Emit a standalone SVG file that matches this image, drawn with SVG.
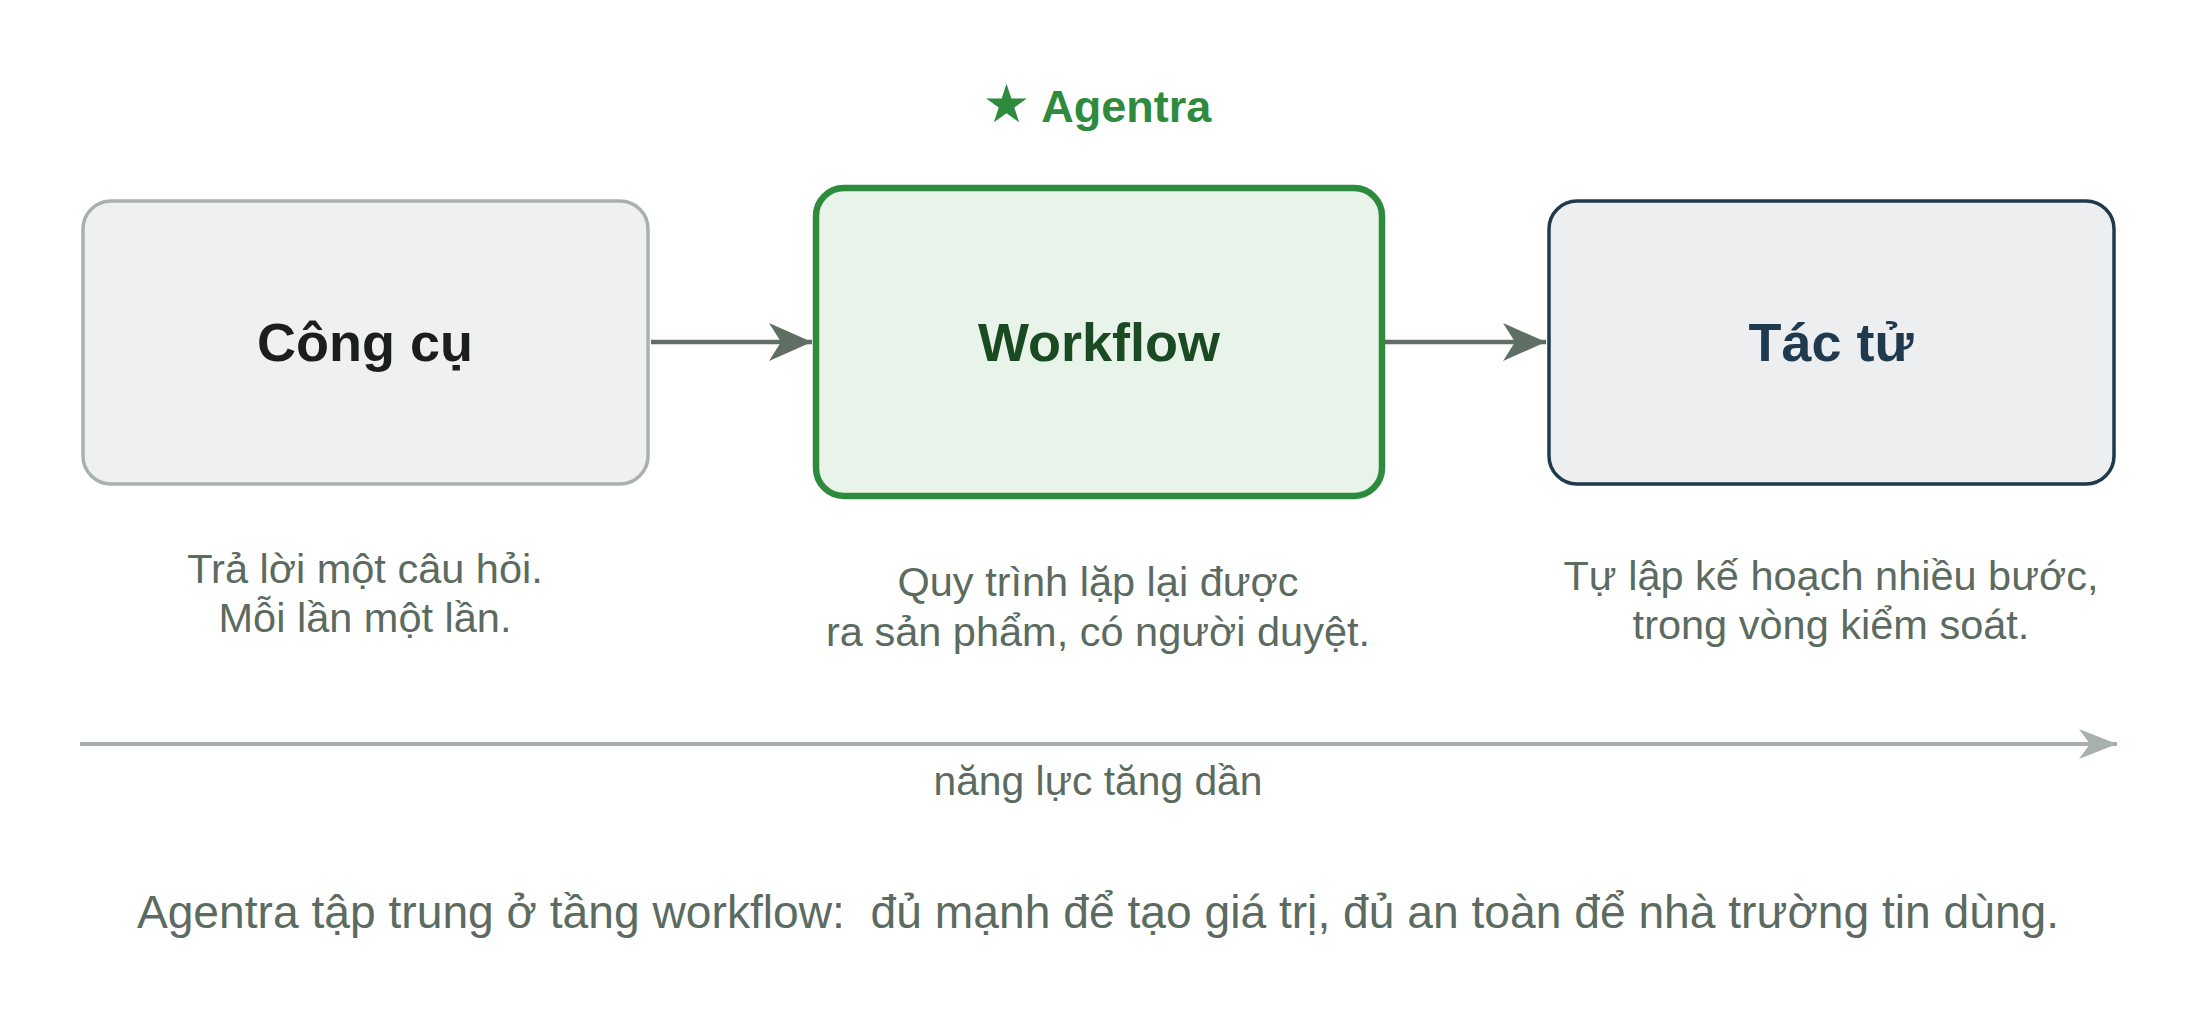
<svg xmlns="http://www.w3.org/2000/svg" width="2200" height="1019" viewBox="0 0 2200 1019">
<defs>
<style>
.lbl{font-family:"Liberation Sans",Arial,sans-serif;font-weight:bold;font-size:54px;text-anchor:middle}
.desc{font-family:"Liberation Sans",Arial,sans-serif;font-size:41.5px;fill:#5b6b60;text-anchor:middle}
.axis-lbl{font-size:40.8px}
.summary{font-size:46.2px;white-space:pre}
.conn{stroke:#5f6f64;stroke-width:4.5;fill:none}
</style>
<marker id="ah" viewBox="0 0 43 38" refX="43" refY="19" markerWidth="43" markerHeight="38" markerUnits="userSpaceOnUse" orient="auto">
<path d="M0,0 L43,19 L0,38 L12,19 Z" fill="#5f6f64"/>
</marker>
<marker id="ah2" viewBox="0 0 38 30" refX="38" refY="15" markerWidth="38" markerHeight="30" markerUnits="userSpaceOnUse" orient="auto">
<path d="M0,0 L38,15 L0,30 L11,15 Z" fill="#a8b0ab"/>
</marker>
</defs>
<rect width="2200" height="1019" fill="#ffffff"/>
<g id="star-label">
<text x="1097" y="122" font-family="'Liberation Sans','DejaVu Sans',sans-serif" font-weight="bold" font-size="45" fill="#2e8b3e" text-anchor="middle"><tspan font-family="'DejaVu Sans',sans-serif" font-size="53">★</tspan> Agentra</text>
</g>
<g id="node-congcu">
<rect x="83" y="201" width="565" height="283" rx="28" fill="#eff1f0" stroke="#a9b1ad" stroke-width="3.5"/>
<text class="lbl" x="365" y="361" fill="#1a1f1c">Công cụ</text>
</g>
<g id="node-workflow">
<rect x="816" y="188" width="566" height="308" rx="28" fill="#e8f4ea" stroke="#2e8b3e" stroke-width="6.5"/>
<text class="lbl" x="1099" y="361" fill="#1a4a22">Workflow</text>
</g>
<g id="node-tactu">
<rect x="1549" y="201" width="565" height="283" rx="28" fill="#eceef0" stroke="#1f3a4d" stroke-width="3.5"/>
<text class="lbl" x="1831" y="361" fill="#1f3a4f">Tác tử</text>
</g>
<g id="connectors">
<line class="conn" x1="651" y1="342" x2="812" y2="342" marker-end="url(#ah)"/>
<line class="conn" x1="1385" y1="342" x2="1546" y2="342" marker-end="url(#ah)"/>
<line x1="80" y1="744" x2="2117" y2="744" stroke="#a8b0ab" stroke-width="4" marker-end="url(#ah2)"/>
</g>
<g id="descriptions">
<text class="desc" x="365" y="583">Trả lời một câu hỏi.</text>
<text class="desc" x="365" y="632">Mỗi lần một lần.</text>
<text class="desc" x="1098" y="596">Quy trình lặp lại được</text>
<text class="desc" x="1098" y="646">ra sản phẩm, có người duyệt.</text>
<text class="desc" x="1831" y="590">Tự lập kế hoạch nhiều bước,</text>
<text class="desc" x="1831" y="639">trong vòng kiểm soát.</text>
<text class="desc axis-lbl" x="1098" y="795">năng lực tăng dần</text>
<text class="desc summary" x="1098" y="928">Agentra tập trung ở tầng workflow:  đủ mạnh để tạo giá trị, đủ an toàn để nhà trường tin dùng.</text>
</g>
</svg>
